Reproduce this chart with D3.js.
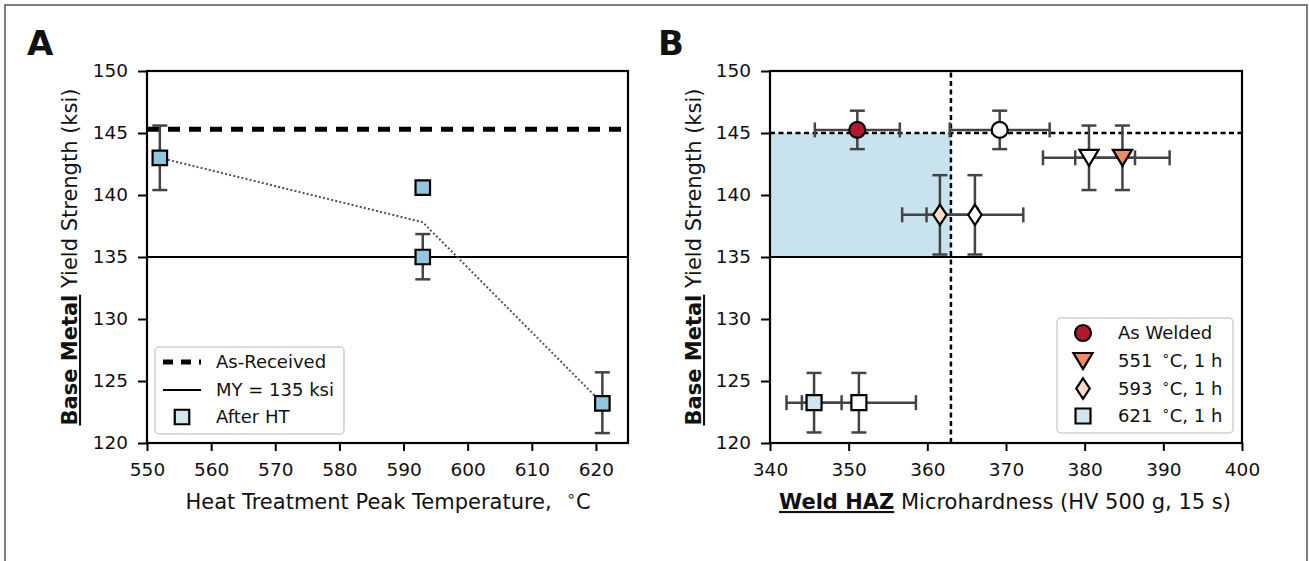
<!DOCTYPE html>
<html>
<head>
<meta charset="utf-8">
<script src="https://cdn.jsdelivr.net/npm/d3@7"></script>
<style>
  body { margin: 0; background: #fff; }
  svg text { font-family: "DejaVu Sans", sans-serif; fill: #111; }
</style>
</head>
<body>
<div id="chart"></div>
<script>
// ---------- Panel A data ----------
const tempA = [552, 593, 593, 621];
const ysA = [143, 140.6, 135, 123.2];
const yLoA = [140.4, null, 133.2, 120.8];
const yHiA = [145.6, null, 136.85, 125.7];
const trendX = [552, 593, 621];
const trendY = [143, 137.8, 123.2];
const AS_RECEIVED = 145.3;
const MY = 135;
const xTicksA = [550, 560, 570, 580, 590, 600, 610, 620];
const yTicks = [120, 125, 130, 135, 140, 145, 150];

// ---------- Panel B data ----------
const groupsB = ["As Welded", "551", "593", "621"];
const colorsB = ["#b2182b", "#ef8a62", "#fddbc7", "#d1e5f0"];
const shapesB = ["circle", "triangle", "diamond", "square"];
const hvFilled = [351.1, 384.8, 361.6, 345.6];
const hvFilledErr = [5.4, 6.0, 4.8, 3.5];
const hvOpen = [369.2, 380.55, 366.05, 351.3];
const hvOpenErr = [6.35, 5.85, 6.15, 7.25];
const ysB = [145.25, 143, 138.4, 123.25];
const ysBErr = [1.55, 2.6, 3.2, 2.4];
const HV_LIMIT = 363;
const YS_TOP = 145;
const xTicksB = [340, 350, 360, 370, 380, 390, 400];

const W = 1309, H = 561;
const LABEL_SIZE = 21;
const TICK_SIZE = 18.5;
const svg = d3.select("#chart").append("svg").attr("width", W).attr("height", H);

// outer frame
svg.append("rect").attr("x", 5).attr("y", 5).attr("width", 1302).attr("height", 570)
  .attr("fill", "none").attr("stroke", "#555").attr("stroke-width", 1.5);

const plotTop = 71, plotBottom = 443;
const xA = d3.scaleLinear().domain([550, 625]).range([147, 628]);
const xB = d3.scaleLinear().domain([340, 400]).range([770, 1242]);
const yA = d3.scaleLinear().domain([120, 150]).range([plotBottom, plotTop]);
const yB = yA.copy();

const ERR = "#444";
const CAP = 7.5;

function symbolPath(shape, s) {
  if (shape === "circle") return d3.symbol(d3.symbolCircle, s * s * Math.PI / 4)();
  if (shape === "square") { const h = s / 2; return `M${-h},${-h}H${h}V${h}H${-h}Z`; }
  if (shape === "triangle") { const w = s * 0.6, h = s * 0.5; return `M${-w},${-h}L${w},${-h}L0,${h}Z`; }
  if (shape === "diamond") { const w = s * 0.42, h = s * 0.64; return `M0,${-h}L${w},0L0,${h}L${-w},0Z`; }
}

function vErr(g, x, lo, hi) {
  g.append("line").attr("x1", x).attr("x2", x).attr("y1", lo).attr("y2", hi)
    .attr("stroke", ERR).attr("stroke-width", 2.5);
  [lo, hi].forEach(y => g.append("line").attr("x1", x - CAP).attr("x2", x + CAP)
    .attr("y1", y).attr("y2", y).attr("stroke", ERR).attr("stroke-width", 2.5));
}
function hErr(g, y, lo, hi) {
  g.append("line").attr("y1", y).attr("y2", y).attr("x1", lo).attr("x2", hi)
    .attr("stroke", ERR).attr("stroke-width", 2.5);
  [lo, hi].forEach(x => g.append("line").attr("y1", y - CAP).attr("y2", y + CAP)
    .attr("x1", x).attr("x2", x).attr("stroke", ERR).attr("stroke-width", 2.5));
}

function drawAxes(x, y, xTicks) {
  const ax = svg.append("g").attr("transform", `translate(0,${plotBottom})`)
    .call(d3.axisBottom(x).tickValues(xTicks).tickSize(8).tickPadding(12));
  const ay = svg.append("g").attr("transform", `translate(${x.range()[0]},0)`)
    .call(d3.axisLeft(y).tickValues(yTicks).tickSize(9).tickPadding(10));
  [ax, ay].forEach(a => {
    a.select(".domain").remove();
    a.selectAll(".tick line").attr("stroke", "#000").attr("stroke-width", 2);
    a.selectAll(".tick text").attr("font-size", TICK_SIZE).attr("fill", "#111")
      .style("font-family", "DejaVu Sans, sans-serif");
  });
  svg.append("rect").attr("x", x.range()[0]).attr("y", plotTop)
    .attr("width", x.range()[1] - x.range()[0]).attr("height", plotBottom - plotTop)
    .attr("fill", "none").attr("stroke", "#000").attr("stroke-width", 2.2);
}

function yLabel(cx) {
  const t = svg.append("text")
    .attr("transform", `translate(${cx},${(plotTop + plotBottom) / 2}) rotate(-90)`)
    .attr("text-anchor", "middle").attr("font-size", LABEL_SIZE);
  t.append("tspan").attr("font-weight", "bold").attr("text-decoration", "underline").text("Base Metal");
  t.append("tspan").text(" Yield Strength (ksi)");
}

function degText(g, x, y, before, after, size, anchor) {
  const t = g.append("text").attr("x", x).attr("y", y).attr("font-size", size)
    .attr("text-anchor", anchor || "start");
  t.append("tspan").text(before);
  t.append("tspan").attr("font-size", size * 0.72).attr("dy", -size * 0.38).text("\u2218");
  t.append("tspan").attr("dy", size * 0.38).text(after);
  return t;
}

// ================= Panel A =================
const gA = svg.append("g");
gA.append("line").attr("x1", xA(550)).attr("x2", xA(625)).attr("y1", yA(MY)).attr("y2", yA(MY))
  .attr("stroke", "#000").attr("stroke-width", 2.2);
gA.append("line").attr("x1", xA(550)).attr("x2", xA(625))
  .attr("y1", yA(AS_RECEIVED)).attr("y2", yA(AS_RECEIVED))
  .attr("stroke", "#000").attr("stroke-width", 5).attr("stroke-dasharray", "12,9");
gA.append("path")
  .attr("d", d3.line().x(d => xA(d[0])).y(d => yA(d[1]))(trendX.map((t, i) => [t, trendY[i]])))
  .attr("fill", "none").attr("stroke", "#555").attr("stroke-width", 2).attr("stroke-dasharray", "2,2.2");
tempA.forEach((t, i) => {
  if (yLoA[i] != null) vErr(gA, xA(t), yA(yLoA[i]), yA(yHiA[i]));
});
gA.selectAll("path.pt").data(tempA).join("path").attr("class", "pt")
  .attr("transform", (d, i) => `translate(${xA(d)},${yA(ysA[i])})`)
  .attr("d", symbolPath("square", 14.5))
  .attr("fill", "#92c5de").attr("stroke", "#000").attr("stroke-width", 2.2);

drawAxes(xA, yA, xTicksA);
yLabel(77);
degText(svg, 388, 509, "Heat Treatment Peak Temperature,\u2002\u2009", "C", LABEL_SIZE, "middle");

// legend A
const lgA = svg.append("g");
lgA.append("rect").attr("x", 155).attr("y", 347).attr("width", 189).attr("height", 87).attr("rx", 4)
  .attr("fill", "#fff").attr("fill-opacity", 0.8).attr("stroke", "#d0d0d0").attr("stroke-width", 1.5);
lgA.append("line").attr("x1", 163).attr("x2", 201).attr("y1", 362).attr("y2", 362)
  .attr("stroke", "#000").attr("stroke-width", 5).attr("stroke-dasharray", "10,8");
lgA.append("line").attr("x1", 163).attr("x2", 201).attr("y1", 390).attr("y2", 390)
  .attr("stroke", "#000").attr("stroke-width", 2.2);
lgA.append("path").attr("transform", "translate(182,417)").attr("d", symbolPath("square", 14.5))
  .attr("fill", "#d1e5f0").attr("stroke", "#000").attr("stroke-width", 2.2);
["As-Received", "MY = 135 ksi", "After HT"].forEach((s, i) =>
  lgA.append("text").attr("x", 216).attr("y", [362, 390, 417][i]).attr("dy", "0.35em")
    .attr("font-size", 18).text(s));

// ================= Panel B =================
const gB = svg.append("g");
gB.append("rect").attr("x", xB(340)).attr("y", yB(YS_TOP))
  .attr("width", xB(HV_LIMIT) - xB(340)).attr("height", yB(MY) - yB(YS_TOP))
  .attr("fill", "#92c5de").attr("fill-opacity", 0.5);
gB.append("line").attr("x1", xB(340)).attr("x2", xB(400)).attr("y1", yB(MY)).attr("y2", yB(MY))
  .attr("stroke", "#000").attr("stroke-width", 2.2);
gB.append("line").attr("x1", xB(340)).attr("x2", xB(400)).attr("y1", yB(YS_TOP)).attr("y2", yB(YS_TOP))
  .attr("stroke", "#000").attr("stroke-width", 2.5).attr("stroke-dasharray", "5,3.5");
gB.append("line").attr("x1", xB(HV_LIMIT)).attr("x2", xB(HV_LIMIT)).attr("y1", yB(120)).attr("y2", yB(150))
  .attr("stroke", "#000").attr("stroke-width", 2.5).attr("stroke-dasharray", "5,3.5");

groupsB.forEach((g, i) => {
  const y = yB(ysB[i]);
  [[hvFilled[i], hvFilledErr[i]], [hvOpen[i], hvOpenErr[i]]].forEach(([hv, e]) => {
    hErr(gB, y, xB(hv - e), xB(hv + e));
    vErr(gB, xB(hv), yB(ysB[i] - ysBErr[i]), yB(ysB[i] + ysBErr[i]));
  });
});
groupsB.forEach((g, i) => {
  const y = yB(ysB[i]);
  const sz = shapesB[i] === "square" ? 15 : 16;
  gB.append("path").attr("transform", `translate(${xB(hvFilled[i])},${y})`)
    .attr("d", symbolPath(shapesB[i], sz)).attr("fill", colorsB[i])
    .attr("stroke", "#000").attr("stroke-width", 2.2);
  gB.append("path").attr("transform", `translate(${xB(hvOpen[i])},${y})`)
    .attr("d", symbolPath(shapesB[i], sz)).attr("fill", "#fff")
    .attr("stroke", "#000").attr("stroke-width", 2.2);
});

drawAxes(xB, yB, xTicksB);
yLabel(701);
const xlB = svg.append("text").attr("x", 1005).attr("y", 509).attr("text-anchor", "middle").attr("font-size", LABEL_SIZE);
xlB.append("tspan").attr("font-weight", "bold").attr("text-decoration", "underline").text("Weld HAZ");
xlB.append("tspan").text(" Microhardness (HV 500 g, 15 s)");

// legend B
const lgB = svg.append("g");
lgB.append("rect").attr("x", 1057).attr("y", 318).attr("width", 176).attr("height", 115).attr("rx", 4)
  .attr("fill", "#fff").attr("fill-opacity", 0.8).attr("stroke", "#d0d0d0").attr("stroke-width", 1.5);
const rowsB = [333, 361, 388.5, 416];
groupsB.forEach((g, i) => {
  lgB.append("path").attr("transform", `translate(1083,${rowsB[i]})`)
    .attr("d", symbolPath(shapesB[i], shapesB[i] === "square" ? 15 : 16)).attr("fill", colorsB[i])
    .attr("stroke", "#000").attr("stroke-width", 2.2);
  if (i === 0) {
    lgB.append("text").attr("x", 1118).attr("y", rowsB[i]).attr("dy", "0.35em").attr("font-size", 18).text(g);
  } else {
    degText(lgB, 1118, rowsB[i] + 6.3, g + " \u2009", "C, 1 h", 18);
  }
});

// panel letters
svg.append("text").attr("x", 27).attr("y", 55).attr("font-size", 34).attr("font-weight", "bold").text("A");
svg.append("text").attr("x", 658).attr("y", 55).attr("font-size", 34).attr("font-weight", "bold").text("B");
</script>
</body>
</html>
